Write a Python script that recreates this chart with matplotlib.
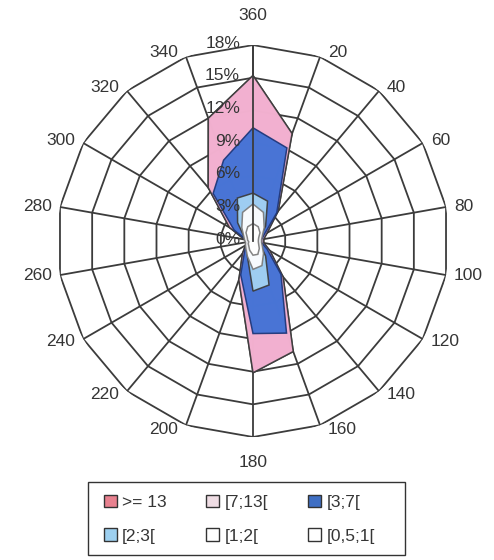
import numpy as np
import matplotlib.pyplot as plt
from matplotlib.patches import Patch, Rectangle

plt.rcParams['font.family'] = ['Liberation Sans', 'DejaVu Sans']

# wind directions (degrees) and their labels
directions = [0, 20, 40, 60, 80, 100, 120, 140, 160, 180,
              200, 220, 240, 260, 280, 300, 320, 340]
dir_labels = ['360', '20', '40', '60', '80', '100', '120', '140', '160', '180',
              '200', '220', '240', '260', '280', '300', '320', '340']
pct_ticks = [0, 3, 6, 9, 12, 15, 18]
pct_labels = ['0%', '3%', '6%', '9%', '12%', '15%', '18%']

# cumulative frequency (%) per wind speed class
names = ['>= 13', '[7;13[', '[3;7[', '[2;3[', '[1;2[', '[0,5;1[']
ge13 = [15.2, 10.5, 3.6, 1.5, 1.0, 1.0, 1.8, 4.3, 10.8, 12.1,
        3.8, 1.5, 0.8, 0.6, 0.8, 2.5, 6.4, 12.0]
s7_13 = [15.2, 10.5, 3.6, 1.5, 1.0, 1.0, 1.8, 4.3, 10.8, 12.1,
         3.8, 1.5, 0.8, 0.6, 0.8, 2.5, 6.4, 12.0]
s3_7 = [10.4, 9.1, 3.4, 1.2, 0.8, 0.8, 1.5, 4.0, 9.0, 8.5,
        3.3, 1.2, 0.6, 0.5, 0.6, 2.0, 5.7, 7.9]
s2_3 = [4.4, 3.9, 1.8, 0.8, 0.5, 0.5, 0.8, 1.8, 4.3, 4.6,
        1.5, 0.8, 0.4, 0.3, 0.4, 1.0, 2.2, 4.2]
s1_2 = [3.4, 2.8, 1.6, 1.0, 0.8, 0.8, 1.0, 1.5, 2.4, 2.6,
        1.5, 1.0, 0.8, 0.7, 0.8, 1.0, 1.6, 2.8]
s05_1 = [1.6, 1.4, 1.0, 0.6, 0.5, 0.5, 0.6, 0.9, 1.3, 1.3,
         0.9, 0.6, 0.5, 0.4, 0.5, 0.6, 1.0, 1.4]

fill_colors = ['#e8818f', '#f3b4d5', '#3a6fd6', '#a6d6f4', '#ffffff', '#ffffff']
edge_colors = ['#3a3a3a', '#3a3a3a', '#1c3578', '#3a3a3a', '#7a7a7a', '#7a7a7a']
legend_colors = ['#e8818f', '#efdde4', '#3f6fc4', '#9dd0f0', '#ffffff', '#ffffff']
txt = '#353535'
gridc = '#3c3c3c'
fs = 12.5

fig = plt.figure(figsize=(4.94, 5.6), dpi=100)
ax = fig.add_axes([0.1154, 0.2196, 0.7935, 0.70], projection='polar')
ax.set_theta_zero_location('N')
ax.set_theta_direction(-1)
ax.set_aspect('auto')
ax.set_ylim(0, 18)
ax.set_xticks([])
ax.set_yticks([])
ax.grid(False)
ax.spines['polar'].set_visible(False)

th = np.deg2rad(directions + [360])

# polygon rings and spokes
for r in pct_ticks[1:]:
    ax.plot(th, [r] * len(th), color=gridc, lw=1.3, zorder=1)
for d in directions:
    ax.plot([np.deg2rad(d)] * 2, [0, 18], color=gridc, lw=1.3, zorder=1)

series = [ge13, s7_13, s3_7, s2_3, s1_2, s05_1]
for vals, fc, ec in zip(series, fill_colors, edge_colors):
    v = vals + vals[:1]
    ax.fill(th, v, facecolor=fc, edgecolor=ec, lw=1.1, alpha=0.92, zorder=2)

# value axis on top
ax.plot([0, 0], [0, 18], color=gridc, lw=1.3, zorder=4)
for r, lab in zip(pct_ticks, pct_labels):
    ax.annotate(lab, (0, r), xytext=(-13, 2), textcoords='offset pixels',
                ha='right', va='center', fontsize=fs, color=txt, zorder=5)

# direction labels
for d, lab in zip(directions, dir_labels):
    if d == 0:
        off, ha, va = (0, 22), 'center', 'bottom'
    elif d == 180:
        off, ha, va = (0, -18), 'center', 'top'
    elif d < 180:
        off, ha, va = (8, 5 * np.cos(np.deg2rad(d))), 'left', 'center'
    else:
        off, ha, va = (-8, 5 * np.cos(np.deg2rad(d))), 'right', 'center'
    ax.annotate(lab, (np.deg2rad(d), 18), xytext=off, textcoords='offset pixels',
                ha=ha, va=va, fontsize=fs, color=txt)

# legend box as in the original
fig.add_artist(Rectangle((88 / 494, 1 - 555 / 560), 317 / 494, 73 / 560,
                         transform=fig.transFigure, fill=False,
                         edgecolor='#333333', lw=1.0))
handles = [Patch(facecolor=c, edgecolor='#333333', lw=1.0) for c in legend_colors]
order = [0, 3, 1, 4, 2, 5]
leg = fig.legend([handles[i] for i in order], [names[i] for i in order],
                 ncol=3, loc='upper left', bbox_to_anchor=(95 / 494, 1 - 486 / 560),
                 fontsize=fs, frameon=False,
                 handlelength=0.75, handleheight=0.75, handletextpad=0.3,
                 columnspacing=2.3, borderpad=0.0, labelspacing=1.05)
for t in leg.get_texts():
    t.set_color(txt)

fig.savefig('out.png', dpi=100, facecolor='white')
